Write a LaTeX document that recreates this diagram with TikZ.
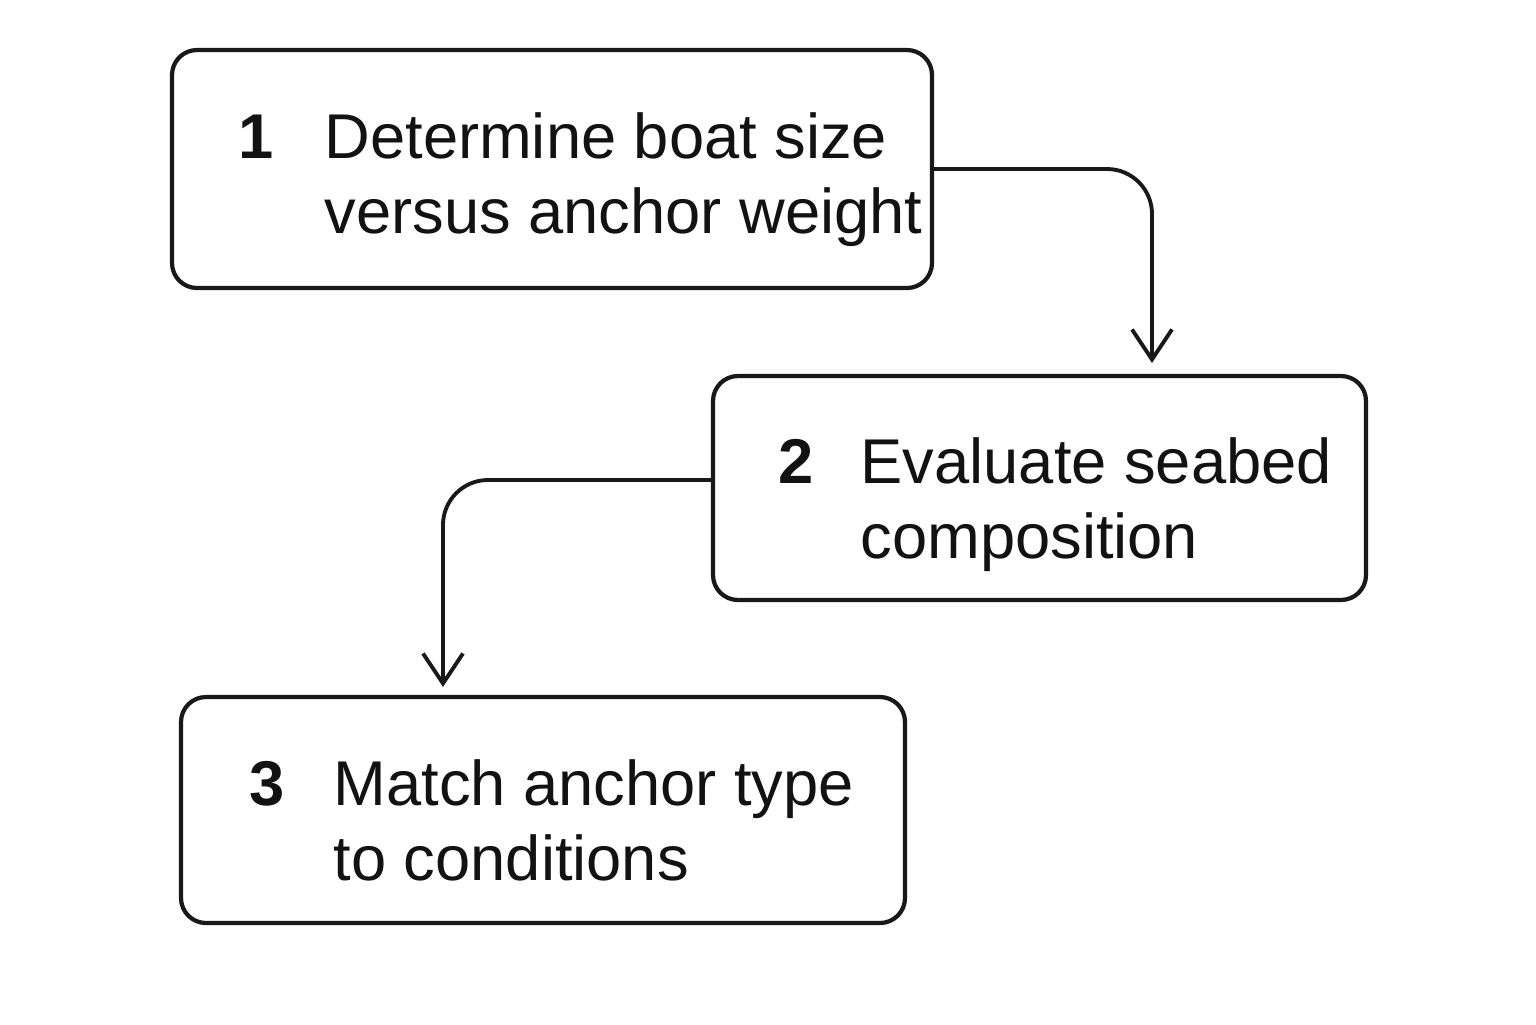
\documentclass[tikz,border=0pt]{standalone}
\usepackage{fontspec}
\setmainfont{Liberation Sans}
\usepackage{tikz}
\usetikzlibrary{calc,arrows.meta}

\begin{document}
\begin{tikzpicture}[every node/.style={text=black!93}]
    \tikzstyle{step box}=[draw,line width=1.2pt,inner sep=0,black!90]
    \tikzstyle{step num}=[anchor=base,inner sep=0,font=\fontsize{18}{21}\selectfont\bfseries]
    \tikzstyle{step text}=[anchor=north west,inner sep=0,align=left,font=\fontsize{18}{21.2}\selectfont]
    \tikzstyle{flow}=[draw,line width=1.1pt,black!90,rounded corners=4.5mm,-{Straight Barb[length=3mm,width=4mm,line width=1.1pt]}]
    \useasboundingbox (0,0) rectangle (15.36,-10.24);

    % boxes
    \node(1)[step box,minimum width=7.6cm,minimum height=2.38cm,rounded corners=2.5mm] at (5.52,-1.69) {};
    \node(2)[step box,minimum width=6.53cm,minimum height=2.24cm,rounded corners=2.5mm] at (10.395,-4.88) {};
    \node(3)[step box,minimum width=7.24cm,minimum height=2.26cm,rounded corners=2.5mm] at (5.43,-8.10) {};

    % numbers and texts
    \node(n1)[step num] at ($(1.west)+(0.86,0.11)$) {1};
    \node(t1)[step text] at ($(1.west)+(1.54,0.57)$) {Determine boat size\\versus anchor weight};
    \node(n2)[step num] at ($(2.west)+(0.85,0.05)$) {2};
    \node(t2)[step text] at ($(2.west)+(1.49,0.51)$) {Evaluate seabed\\composition};
    \node(n3)[step num] at ($(3.west)+(0.88,0.05)$) {3};
    \node(t3)[step text] at ($(3.west)+(1.54,0.51)$) {Match anchor type\\to conditions};

    % connectors
    \draw[flow,shorten >=1.1mm] (1.east) -| ([xshift=11.25mm]2.north);
    \draw[flow,shorten >=0.8mm] ([yshift=0.8mm]2.west) -| ([xshift=-10mm]3.north);
\end{tikzpicture}
\end{document}
